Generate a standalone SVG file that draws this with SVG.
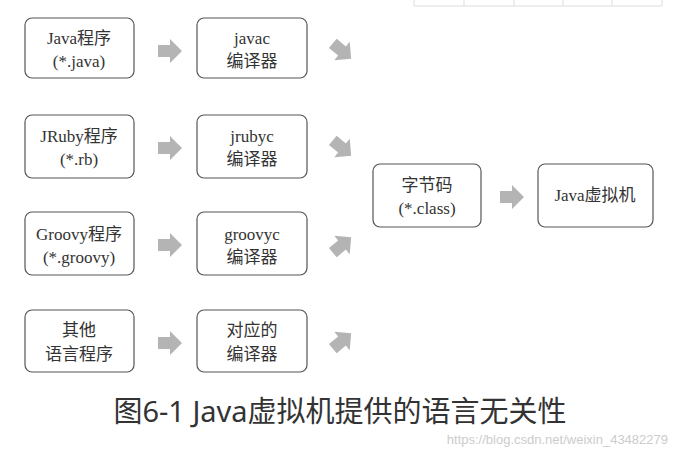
<svg xmlns="http://www.w3.org/2000/svg" width="675" height="459" viewBox="0 0 675 459">
<style>
.b{fill:#fff;stroke:#555;stroke-width:1.2}
.t{font-family:"Liberation Serif","Noto Sans CJK SC",serif;font-size:17px;fill:#333;text-anchor:middle}
.a{fill:#b4b4b4}
</style>
<defs><path id="ar" d="M-12,-6 H0 V-12 L12,0 L0,12 V6 H-12 Z"/></defs>
<rect width="675" height="459" fill="#fff"/>
<g stroke="#ddd" fill="none"><path d="M414,0 V6 H662 V0 M464,0 V6 M514,0 V6 M563,0 V6 M612,0 V6"/></g>
<g id="n1"><rect class="b" x="25" y="18" width="109" height="60" rx="7"/><text class="t" x="79" y="44">Java程序</text><text class="t" x="79" y="67">(*.java)</text></g>
<g id="n2"><rect class="b" x="25" y="115" width="109" height="63" rx="7"/><text class="t" x="79" y="142">JRuby程序</text><text class="t" x="79" y="165">(*.rb)</text></g>
<g id="n3"><rect class="b" x="25" y="212" width="109" height="63" rx="7"/><text class="t" x="79" y="240">Groovy程序</text><text class="t" x="79" y="263">(*.groovy)</text></g>
<g id="n4"><rect class="b" x="25" y="310" width="109" height="62" rx="7"/><text class="t" x="79" y="336">其他</text><text class="t" x="79" y="360">语言程序</text></g>
<g id="c1"><rect class="b" x="197" y="18" width="110" height="60" rx="7"/><text class="t" x="252" y="44">javac</text><text class="t" x="252" y="67">编译器</text></g>
<g id="c2"><rect class="b" x="197" y="115" width="110" height="63" rx="7"/><text class="t" x="252" y="142">jrubyc</text><text class="t" x="252" y="165">编译器</text></g>
<g id="c3"><rect class="b" x="197" y="212" width="110" height="63" rx="7"/><text class="t" x="252" y="240">groovyc</text><text class="t" x="252" y="263">编译器</text></g>
<g id="c4"><rect class="b" x="197" y="310" width="110" height="62" rx="7"/><text class="t" x="252" y="336">对应的</text><text class="t" x="252" y="360">编译器</text></g>
<g id="bc"><rect class="b" x="373" y="164" width="108" height="63" rx="7"/><text class="t" x="427" y="191">字节码</text><text class="t" x="427" y="214">(*.class)</text></g>
<g id="jvm"><rect class="b" x="538" y="164" width="115" height="63" rx="7"/><text class="t" x="595" y="201">Java虚拟机</text></g>
<g id="connectors" class="a">
<use href="#ar" transform="translate(170,51)"/>
<use href="#ar" transform="translate(170,148)"/>
<use href="#ar" transform="translate(170,245)"/>
<use href="#ar" transform="translate(170,343)"/>
<use href="#ar" transform="translate(512,197)"/>
<use href="#ar" transform="translate(342,51) rotate(40)"/>
<use href="#ar" transform="translate(342,148) rotate(40)"/>
<use href="#ar" transform="translate(342,245) rotate(-40)"/>
<use href="#ar" transform="translate(342,341) rotate(-40)"/>
</g>
<text x="340" y="422" font-family="'Noto Sans','Noto Sans CJK SC',sans-serif" font-size="29" fill="#333" text-anchor="middle">图6-1 Java虚拟机提供的语言无关性</text>
<text x="668" y="444" font-family="'Liberation Sans',sans-serif" font-size="13" fill="#ccc" text-anchor="end">https://blog.csdn.net/weixin_43482279</text>
</svg>
